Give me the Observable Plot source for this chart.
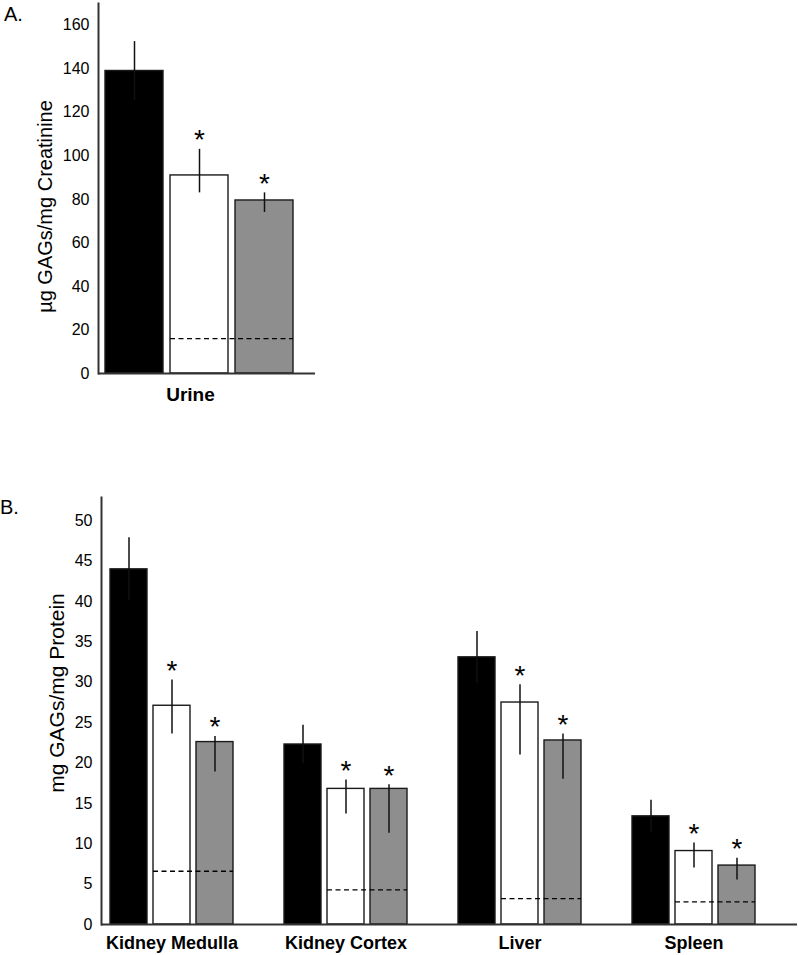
<!DOCTYPE html>
<html>
<head>
<meta charset="utf-8">
<script src="https://cdn.jsdelivr.net/npm/d3@7"></script>
<script src="https://cdn.jsdelivr.net/npm/@observablehq/plot@0.6"></script>
<style>
  body { margin: 0; background: #fff; font-family: "Liberation Sans", Arial, sans-serif; }
  #wrap { position: relative; width: 798px; height: 955px; overflow: hidden; }
  .panel-label { position: absolute; font-size: 20px; line-height: 1; color: #000; }
  #top { position: absolute; left: 0; top: 0; }
  #bottom { position: absolute; left: 0; top: 440px; }
</style>
</head>
<body>
<div id="wrap">
  <div id="top"></div>
  <div id="bottom"></div>
  <div class="panel-label" style="left:4px; top:4px;">A.</div>
  <div class="panel-label" style="left:0px; top:497px;">B.</div>
</div>
<script>
// ---------- shared series ----------
const seriesNames = ["Untreated", "Treatment 1", "Treatment 2"];
const seriesFills = ["#000000", "#ffffff", "#8e8e8e"];

// ---------- Panel A: urine ----------
const urineCategory = "Urine";
const urineMean = [139, 91, 79.5];
const urineLow = [125.5, 83, 74];
const urineHigh = [152.5, 103, 83];
const urineSignificant = [false, true, true];
const urineNormal = [16];
const urineTicks = [0, 20, 40, 60, 80, 100, 120, 140, 160];
const urineYLabel = "\u00b5g GAGs/mg Creatinine";

// ---------- Panel B: tissues ----------
const tissues = ["Kidney Medulla", "Kidney Cortex", "Liver", "Spleen"];
const untreatedMean = [44.0, 22.3, 33.1, 13.4];
const untreatedLow = [40.1, 19.9, 29.9, 11.4];
const untreatedHigh = [47.9, 24.7, 36.3, 15.4];
const treatment1Mean = [27.1, 16.8, 27.5, 9.1];
const treatment1Low = [23.6, 13.7, 21.0, 7.0];
const treatment1High = [30.3, 17.9, 29.7, 10.1];
const treatment2Mean = [22.6, 16.8, 22.8, 7.3];
const treatment2Low = [18.9, 11.3, 18.0, 5.5];
const treatment2High = [23.3, 17.3, 23.6, 8.2];
const untreatedSignificant = [false, false, false, false];
const treatment1Significant = [true, true, true, true];
const treatment2Significant = [true, true, true, true];
const tissueNormal = [6.6, 4.3, 3.2, 2.8];
const tissueTicks = [0, 5, 10, 15, 20, 25, 30, 35, 40, 45, 50];
const tissueYLabel = "mg GAGs/mg Protein";

const fontFamily = "'Liberation Sans', Arial, sans-serif";
const barStroke = "#1a1a1a";
const errStroke = "#111111";
const axisStroke = "#333333";

// ---------- build tables ----------
const urineRows = seriesNames.map((s, i) => ({
  series: s, mean: urineMean[i], lo: urineLow[i], hi: urineHigh[i], sig: urineSignificant[i]
}));

const means = [untreatedMean, treatment1Mean, treatment2Mean];
const lows = [untreatedLow, treatment1Low, treatment2Low];
const highs = [untreatedHigh, treatment1High, treatment2High];
const sigs = [untreatedSignificant, treatment1Significant, treatment2Significant];
const tissueRows = [];
tissues.forEach((t, j) => {
  seriesNames.forEach((s, i) => {
    tissueRows.push({ tissue: t, series: s, mean: means[i][j], lo: lows[i][j], hi: highs[i][j], sig: sigs[i][j] });
  });
});
const normalRows = tissues.map((t, j) => ({ tissue: t, value: tissueNormal[j] }));

// ---------- Panel A plot ----------
const topPlot = Plot.plot({
  width: 798,
  height: 430,
  marginLeft: 98,
  marginRight: 483,
  marginTop: 3,
  marginBottom: 57,
  style: { fontFamily, background: "#fff", color: "#000" },
  x: { domain: seriesNames, paddingInner: 0.115, paddingOuter: 0.21, align: 0.24, axis: null },
  y: { domain: [0, 170], axis: null },
  color: { domain: seriesNames, range: seriesFills },
  marks: [
    Plot.barY(urineRows, { x: "series", y: "mean", fill: "series", stroke: barStroke, strokeWidth: 1.4 }),
    Plot.ruleY(urineNormal, { y: d => d, x1: () => seriesNames[1], x2: () => seriesNames[2],
      stroke: "#000", strokeWidth: 1.3, strokeDasharray: "5,3.5" }),
    Plot.ruleX(urineRows, { x: "series", y1: "lo", y2: "hi", stroke: errStroke, strokeWidth: 1.5 }),
    Plot.text(urineRows.filter(d => d.sig), { x: "series", y: "hi", text: () => "*", dy: -9, fontSize: 28 }),
    Plot.ruleY([0], { stroke: axisStroke, strokeWidth: 2 }),
    Plot.frame({ anchor: "left", stroke: axisStroke, strokeWidth: 2 }),
    Plot.axisY({ ticks: urineTicks, tickSize: 0, tickPadding: 9, fontSize: 16, label: null }),
    Plot.text([urineYLabel], { frameAnchor: "left", textAnchor: "middle", rotate: -90, dx: -53, dy: 18, fontSize: 20 }),
    Plot.text([urineCategory], { x: () => seriesNames[1], text: d => d, frameAnchor: "bottom",
      dy: 27, dx: -9, fontSize: 19, fontWeight: "bold" })
  ]
});
document.getElementById("top").appendChild(topPlot);

// ---------- Panel B plot ----------
const bottomPlot = Plot.plot({
  width: 798,
  height: 515,
  marginLeft: 99,
  marginRight: 0,
  marginTop: 57,
  marginBottom: 31,
  style: { fontFamily, background: "#fff", color: "#000" },
  fx: { domain: tissues, padding: 0, axis: null },
  x: { domain: seriesNames, paddingInner: 0.14, paddingOuter: 0.59, align: 0.177, axis: null },
  y: { domain: [0, 52.9], axis: null },
  color: { domain: seriesNames, range: seriesFills },
  marks: [
    Plot.barY(tissueRows, { fx: "tissue", x: "series", y: "mean", fill: "series", stroke: barStroke, strokeWidth: 1.4 }),
    Plot.ruleY(normalRows, { fx: "tissue", y: "value", x1: () => seriesNames[1], x2: () => seriesNames[2],
      stroke: "#000", strokeWidth: 1.3, strokeDasharray: "5,3.5" }),
    Plot.ruleX(tissueRows, { fx: "tissue", x: "series", y1: "lo", y2: "hi", stroke: errStroke, strokeWidth: 1.5 }),
    Plot.text(tissueRows.filter(d => d.sig), { fx: "tissue", x: "series", y: "hi", text: () => "*", dy: -9, fontSize: 28 }),
    Plot.text(tissues, { fx: d => d, x: () => seriesNames[1], text: d => d, frameAnchor: "bottom",
      dy: 24, fontSize: 18, fontWeight: "bold" }),
    Plot.ruleY([0], { stroke: axisStroke, strokeWidth: 2 }),
    Plot.frame({ anchor: "left", facetAnchor: "left", stroke: axisStroke, strokeWidth: 2 }),
    Plot.axisY({ ticks: tissueTicks, tickSize: 0, tickPadding: 9, fontSize: 16, label: null }),
    Plot.text([tissueYLabel], { frameAnchor: "left", textAnchor: "middle", rotate: -90, dx: -44, dy: -18,
      fontSize: 21, facetAnchor: "left" })
  ]
});
document.getElementById("bottom").appendChild(bottomPlot);
</script>
</body>
</html>
